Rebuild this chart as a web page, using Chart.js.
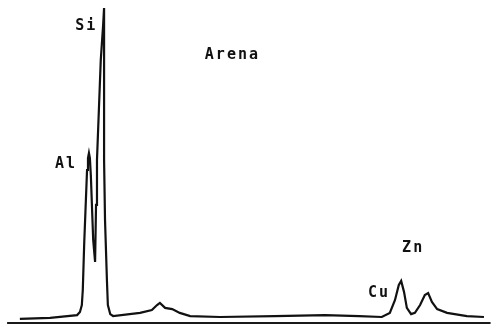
<!DOCTYPE html>
<html>
<head>
<meta charset="utf-8">
<script src="https://cdn.jsdelivr.net/npm/chart.js@4/dist/chart.umd.min.js"></script>
<style>
    html, body { margin: 0; padding: 0; background: #fff; }
    #wrap { width: 492px; height: 325px; position: relative; }
</style>
</head>
<body>
<div id="wrap"><canvas id="spectrum"></canvas></div>
<script>
// #############################################################################
// Data (EDS spectrum, "Arena")

// Energy (keV) and relative intensity (Si peak = 100)
const energy = [
    0.02, 0.66, 1.23, 1.29, 1.33, 1.35, 1.38, 1.44, 1.46, 1.48,
    1.50, 1.52, 1.57, 1.61, 1.63, 1.65, 1.69, 1.73, 1.78, 1.80,
    1.80, 1.80, 1.82, 1.86, 1.88, 1.93, 1.99, 2.56, 2.81, 2.92,
    2.98, 3.09, 3.24, 3.40, 3.62, 4.25, 5.41, 6.47, 7.19, 7.67,
    7.84, 7.95, 8.03, 8.08, 8.14, 8.20, 8.29, 8.37, 8.48, 8.58,
    8.65, 8.73, 8.84, 9.05, 9.47, 9.83,
];
const intensity = [
    1.0, 1.3, 2.2, 3.2, 5.4, 10.2, 25.0, 48.4, 52.2, 53.8,
    52.2, 46.8, 26.1, 19.1, 37.3, 51.6, 67.5, 83.4, 94.6, 100,
    80.3, 51.6, 32.5, 13.4, 5.4, 2.5, 1.9, 2.9, 3.8, 5.4,
    6.1, 4.5, 4.1, 2.9, 1.9, 1.6, 1.9, 2.2, 1.9, 1.6,
    2.9, 7.0, 11.8, 13.1, 9.6, 4.5, 2.5, 2.9, 5.4, 8.6,
    9.2, 6.4, 4.1, 2.9, 1.9, 1.6,
];

// Text labels on the plot (energy, intensity at text baseline-left)
const labelTexts = ["Si", "Al", "Arena", "Zn", "Cu"];
const labelEnergy = [1.19, 0.76, 3.93, 8.10, 7.38];
const labelIntensity = [93.0, 49.0, 83.8, 22.3, 8.0];

// Axis range
const energyMin = -0.4;
const energyMax = 10.0;
const intensityMax = 100;

// #############################################################################
// Plugins

// Draw the baseline and the peak labels
const spectrumDecor = {
    id: "spectrumDecor",
    afterDatasetsDraw(chart) {
        const { ctx, scales } = chart;
        const x = scales.x;
        const y = scales.y;

        // Bottom axis line
        ctx.save();
        ctx.strokeStyle = "#1a1a1a";
        ctx.lineWidth = 2;
        ctx.beginPath();
        const yBase = y.getPixelForValue(0) + 1;
        ctx.moveTo(x.getPixelForValue(-0.25), yBase);
        ctx.lineTo(x.getPixelForValue(9.97), yBase);
        ctx.stroke();

        // Labels
        ctx.fillStyle = "#111";
        ctx.font = "bold 15px 'DejaVu Sans Mono'";
        ctx.letterSpacing = "2px";
        ctx.textAlign = "left";
        ctx.textBaseline = "alphabetic";
        labelTexts.forEach((text, i) => {
            ctx.fillText(
                text,
                x.getPixelForValue(labelEnergy[i]),
                y.getPixelForValue(labelIntensity[i])
            );
        });
        ctx.restore();
    },
};

// #############################################################################
// Chart

const ctx = document.getElementById("spectrum").getContext("2d");
const chart = new Chart(ctx, {
    type: "line",
    data: {
        datasets: [
            {
                label: "Arena",
                data: energy.map((e, i) => ({ x: e, y: intensity[i] })),
                borderColor: "#111",
                borderWidth: 2.2,
                pointRadius: 0,
                tension: 0,
                fill: false,
            },
        ],
    },
    options: {
        responsive: true,
        maintainAspectRatio: false,
        animation: false,
        layout: {
            padding: { top: 8, bottom: 3, left: 0, right: 0 },
        },
        plugins: {
            legend: { display: false },
            tooltip: { enabled: false },
        },
        scales: {
            x: {
                type: "linear",
                min: energyMin,
                max: energyMax,
                display: false,
            },
            y: {
                min: 0,
                max: intensityMax,
                display: false,
            },
        },
    },
    plugins: [spectrumDecor],
});
</script>
</body>
</html>
